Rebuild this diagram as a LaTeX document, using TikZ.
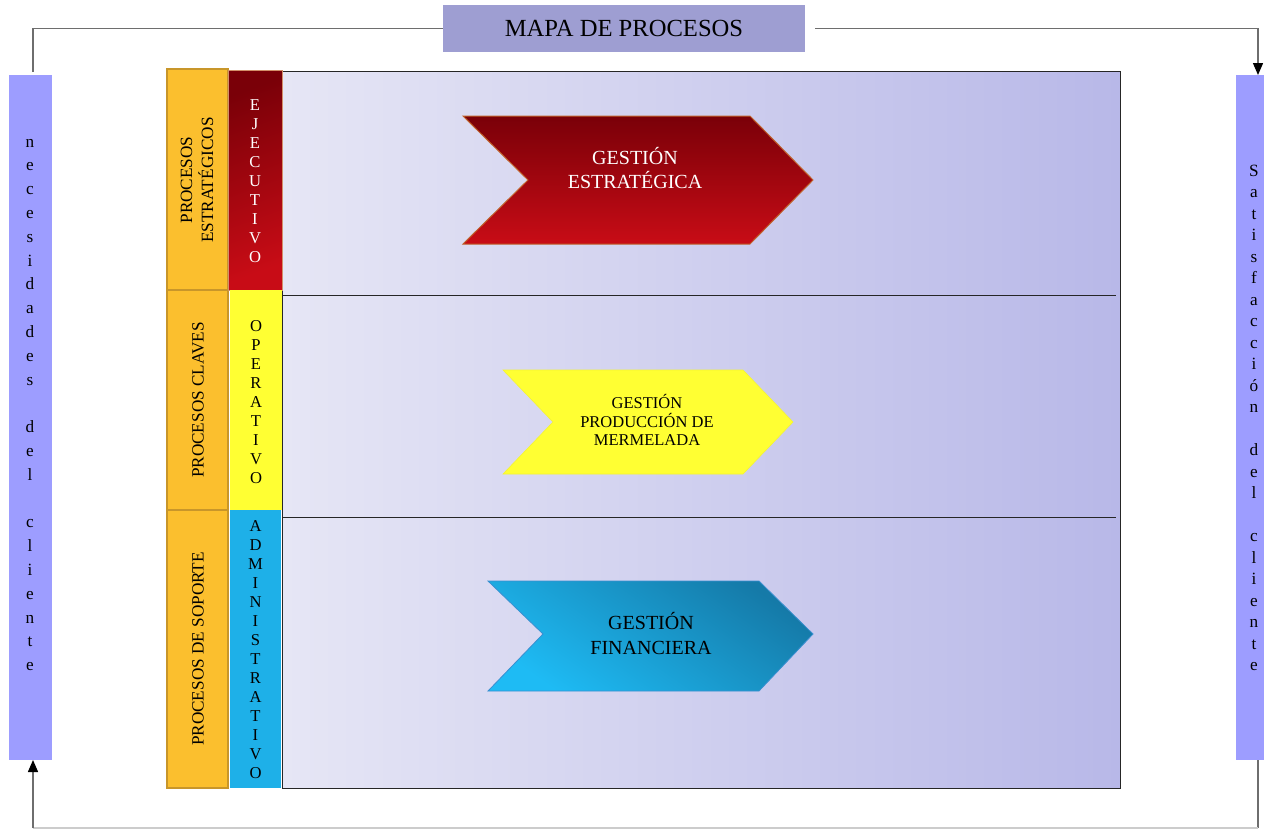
\documentclass[tikz,border=0pt]{standalone}
\usepackage{fontspec}
\setmainfont{Liberation Serif}
\usetikzlibrary{arrows.meta}
\definecolor{titlebg}{HTML}{9E9ED2}
\definecolor{sidebar}{HTML}{9D9DFF}
\definecolor{panelL}{HTML}{E6E6F5}
\definecolor{panelR}{HTML}{B8B8E8}
\definecolor{orangebox}{HTML}{FBBF2E}
\definecolor{orangeedge}{HTML}{C8962A}
\definecolor{redD}{HTML}{7A0008}
\definecolor{redL}{HTML}{C80C16}
\definecolor{rededge}{HTML}{C0602A}
\definecolor{yel}{HTML}{FFFF33}
\definecolor{cyanbox}{HTML}{1EB0E8}
\definecolor{blueD}{HTML}{157AA8}
\definecolor{blueL}{HTML}{1EBBF4}
\definecolor{blueedge}{HTML}{3A8FD0}
\definecolor{linegray}{HTML}{6E6E6E}
\definecolor{lightline}{HTML}{CCCCCC}
\tikzset{
  conn/.style={draw=linegray, line width=0.7pt},
  tip/.style={-{Triangle[width=5pt,length=6pt,fill=black,color=black]}},
  sidebox/.style={fill=sidebar, inner sep=0pt},
  lettercol/.style={align=center, inner sep=0pt, font=\fontsize{8.6}{#1}\selectfont},
  orangecell/.style={fill=orangebox, draw=orangeedge, line width=0.6pt, inner sep=0pt, minimum width=30.5pt},
  rottext/.style={rotate=90, align=center, inner sep=0pt, font=\fontsize{8.6}{10.5}\selectfont},
  vletters/.style={align=center, inner sep=0pt, font=\fontsize{8.3}{9.5}\selectfont},
}
\begin{document}
\begin{tikzpicture}[x=0.5pt,y=-0.5pt]
\useasboundingbox (0,0) rectangle (1264,830);

% title
\node[fill=titlebg, minimum width=181pt, minimum height=23.5pt, inner sep=0pt,
      font=\fontsize{12.3}{14}\selectfont] (title) at (624,28.5) {MAPA DE PROCESOS};

% side bars
\node[sidebox, minimum width=21.5pt, minimum height=342.5pt] (leftbar) at (30.5,417.5) {};
\node[sidebox, minimum width=14pt, minimum height=342.5pt] (rightbar) at (1250,417.5) {};
\node[lettercol=11.9] (lefttext) at (30,405)
  {n\\e\\c\\e\\s\\i\\d\\a\\d\\e\\s\\~\\d\\e\\l\\~\\c\\l\\i\\e\\n\\t\\e};
\node[lettercol=10.75] (righttext) at (1254,418)
  {S\\a\\t\\i\\s\\f\\a\\c\\c\\i\\ó\\n\\~\\d\\e\\l\\~\\c\\l\\i\\e\\n\\t\\e};

% connectors
\coordinate (ltop) at (33,72);
\coordinate (tstart) at (815,28.5);
\coordinate (rtop) at (1258,75);
\coordinate (rbot) at (1258,760);
\coordinate (cbr) at (1258,828);
\coordinate (cbl) at (33,828);
\coordinate (lbot) at (33,760);
\draw[conn] (ltop) |- (title.west);
\draw[conn, tip] (tstart) -| (rtop);
\draw[conn] (rbot) -- (cbr);
\draw[draw=lightline, line width=0.7pt] (cbr) -- (cbl);
\draw[conn, tip] (cbl) -- (lbot);

% main panel
\node[left color=panelL, right color=panelR, draw=black!85, line width=0.5pt,
      minimum width=419pt, minimum height=358.5pt, inner sep=0pt] (panel) at (701,429.5) {};
\coordinate (d1a) at (282,295);
\coordinate (d1b) at (1116,295);
\coordinate (d2a) at (282,517);
\coordinate (d2b) at (1116,517);
\draw[black!85, line width=0.5pt] (d1a) -- (d1b);
\draw[black!85, line width=0.5pt] (d2a) -- (d2b);

% orange column
\node[orangecell, minimum height=110.5pt] (o1) at (197.5,179.5) {};
\node[orangecell, minimum height=110pt] (o2) at (197.5,400) {};
\node[orangecell, minimum height=139pt] (o3) at (197.5,649) {};
\node[rottext] (t1) at (197,180) {PROCESOS\\ESTRATÉGICOS};
\node[rottext] (t2) at (198,400) {PROCESOS CLAVES};
\node[rottext] (t3) at (198,649) {PROCESOS DE SOPORTE};

% second column
\node[top color=redD, bottom color=redL, shading angle=20, draw=rededge!70, line width=0.4pt,
      minimum width=27pt, minimum height=110pt, inner sep=0pt] (ej) at (255,180) {};
\node[fill=yel, minimum width=26pt, minimum height=110pt, inner sep=0pt] (op) at (256,400) {};
\node[fill=cyanbox, minimum width=25.5pt, minimum height=139pt, inner sep=0pt] (ad) at (255.5,649) {};
\node[vletters, text=white] (ejt) at (255,181.5) {E\\J\\E\\C\\U\\T\\I\\V\\O};
\node[vletters] (opt) at (256,402.5) {O\\P\\E\\R\\A\\T\\I\\V\\O};
\node[vletters] (adt) at (255.5,650) {A\\D\\M\\I\\N\\I\\S\\T\\R\\A\\T\\I\\V\\O};

% chevrons
\shadedraw[top color=redD, bottom color=redL, draw=rededge, line width=0.5pt]
  (463,116) -- (750,116) -- (813,180) -- (750,244) -- (463,244) -- (528,180) -- cycle;
\node[align=center, text=white, font=\fontsize{10}{12}\selectfont] (g1) at (635,168)
  {GESTIÓN\\ESTRATÉGICA};

\filldraw[fill=yel, draw=yel!80!black!20!yel, line width=0.3pt]
  (503,370) -- (743,370) -- (793,422) -- (743,474) -- (503,474) -- (553,422) -- cycle;
\node[align=center, font=\fontsize{8.25}{9.25}\selectfont] (g2) at (647,420)
  {GESTIÓN\\PRODUCCIÓN DE\\MERMELADA};

\shadedraw[top color=blueD, bottom color=blueL, shading angle=-35, draw=blueedge, line width=0.4pt]
  (488,581) -- (759,581) -- (813,634) -- (759,691) -- (488,691) -- (543,634) -- cycle;
\node[align=center, font=\fontsize{10}{12.5}\selectfont] (g3) at (651,634)
  {GESTIÓN\\FINANCIERA};
\end{tikzpicture}
\end{document}
